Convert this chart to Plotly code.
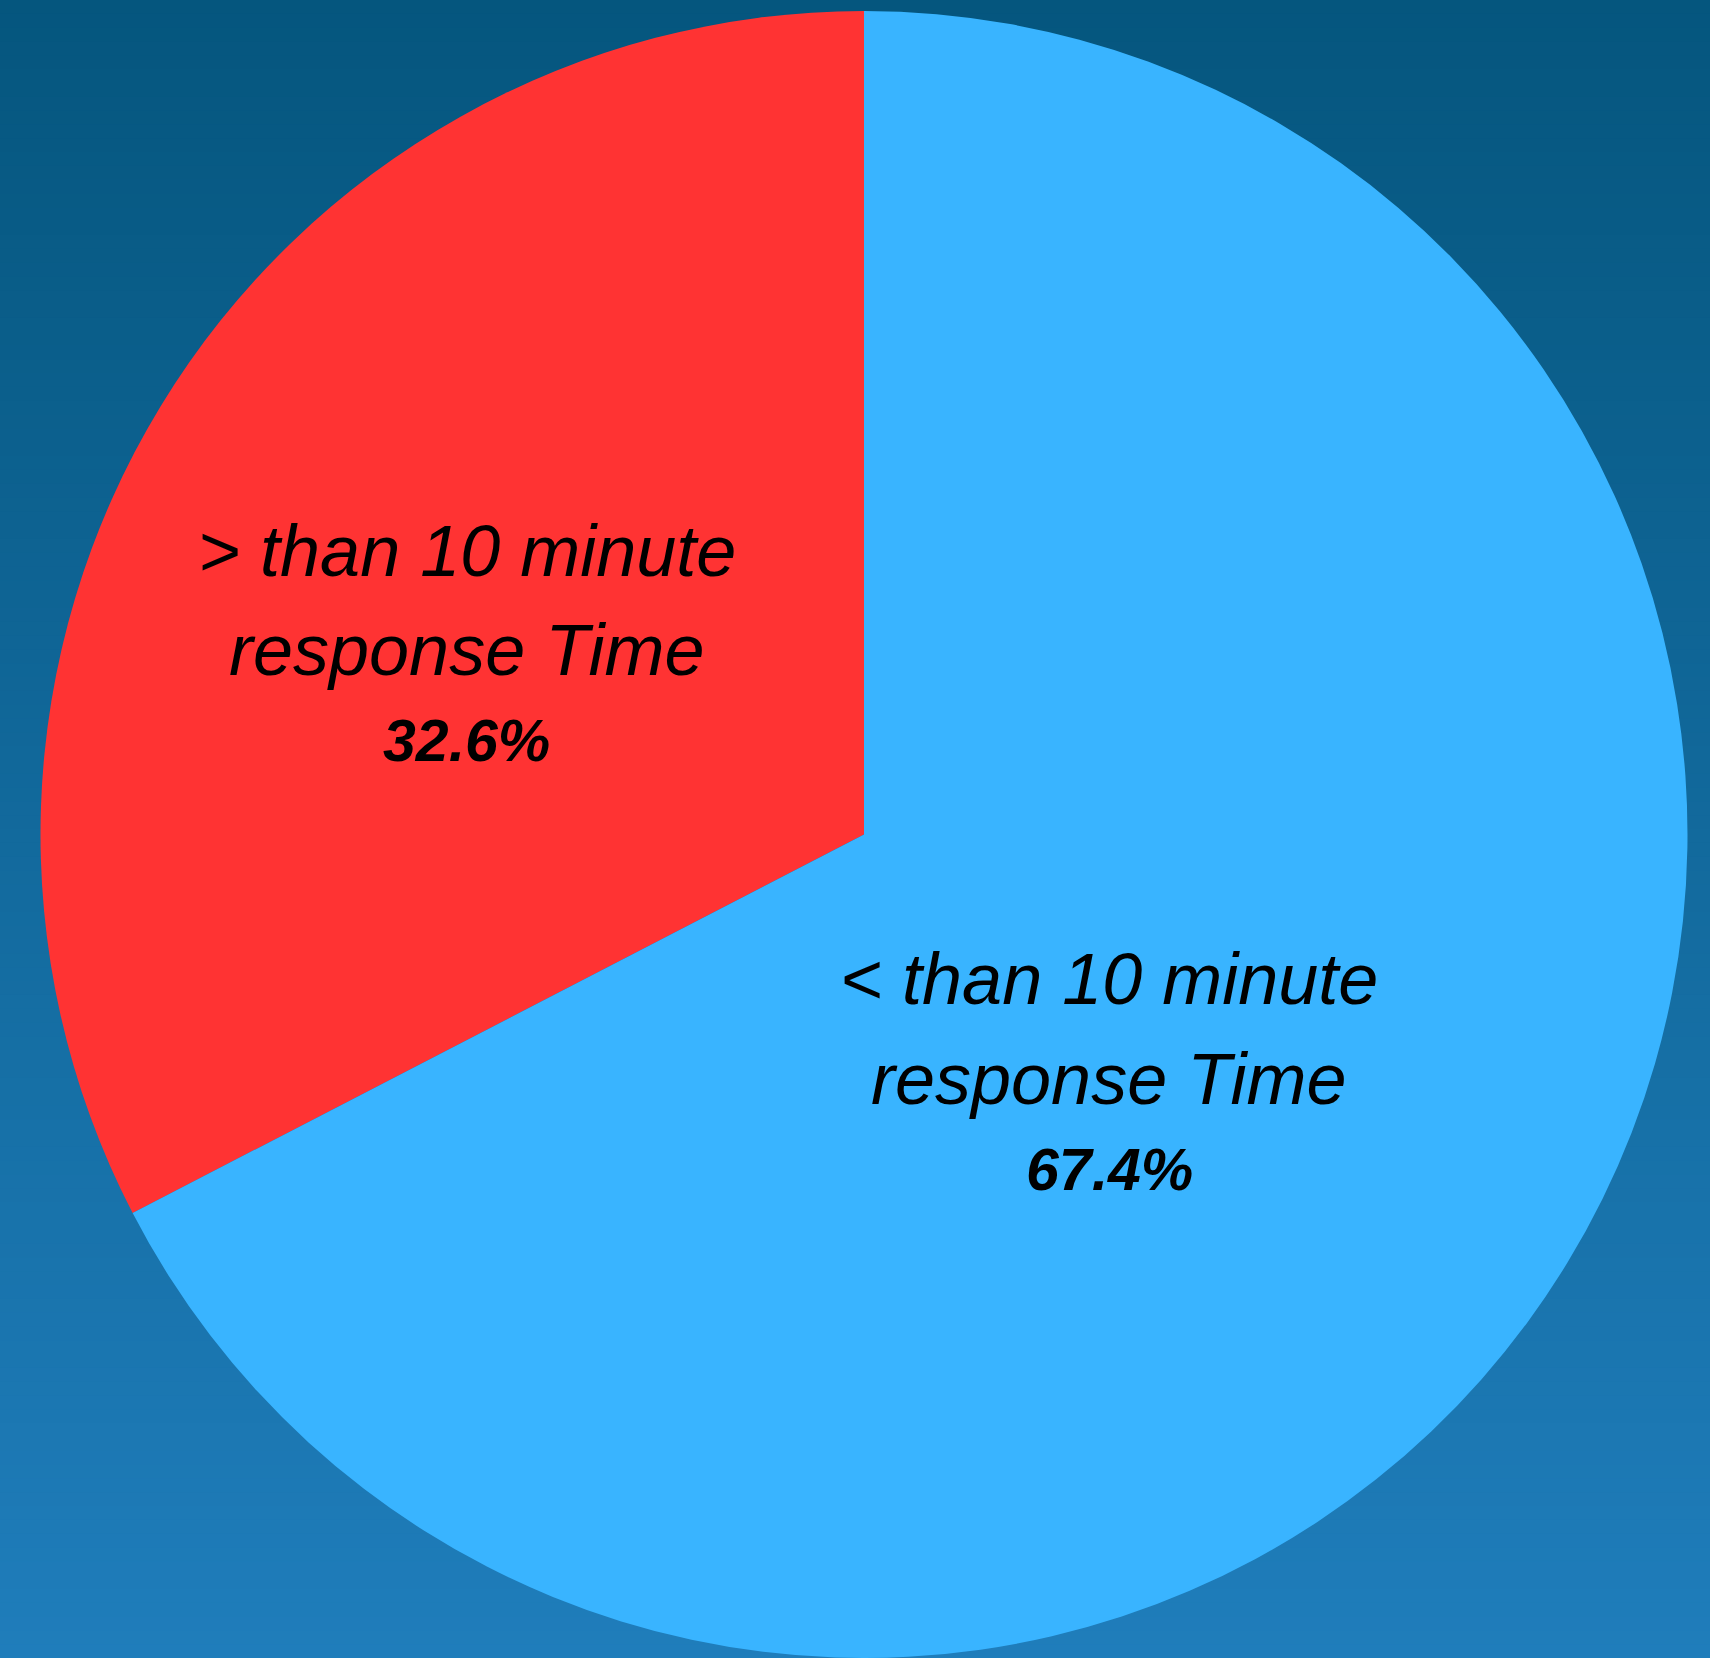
import plotly.graph_objects as go

# ---- data ----
label_line1 = ["> than 10 minute", "< than 10 minute"]
label_line2 = ["response Time", "response Time"]
labels = [a + " " + b for a, b in zip(label_line1, label_line2)]
values = [32.6, 67.4]
colors = ["#ff3333", "#39b4ff"]

# ---- layout constants ----
W, H = 1710, 1658
TOP = 11                       # pie top edge (px)
CX = 864                       # pie centre x (px)
R = (H - TOP) / 2
# label block centres (px): (x, line1 centre y, line2 centre y, pct centre y)
LABEL_POS = [(467, 551, 650, 741), (1109, 979, 1079, 1170)]

total = sum(values)
# first slice runs counter-clockwise from 12 o'clock
start_rotation = -360.0 * values[0] / total

fig = go.Figure()
fig.add_trace(go.Pie(
    labels=labels,
    values=values,
    sort=False,
    direction="clockwise",
    rotation=start_rotation,
    marker=dict(colors=colors, line=dict(width=0)),
    textinfo="none",
    hoverinfo="label+percent",
    showlegend=False,
    domain=dict(x=[(CX - R) / W, (CX + R) / W], y=[0, 1 - TOP / H]),
))

# background vertical gradient
top_rgb = (5, 86, 126)
bot_rgb = (31, 125, 187)
n = 120
shapes = []
for i in range(n):
    t = i / (n - 1)
    c = tuple(round(top_rgb[k] + (bot_rgb[k] - top_rgb[k]) * t) for k in range(3))
    shapes.append(dict(
        type="rect", xref="paper", yref="paper", layer="below",
        x0=0, x1=1, y0=1 - (i + 1) / n - 0.001, y1=1 - i / n,
        fillcolor="rgb(%d,%d,%d)" % c, line=dict(width=0),
    ))

annotations = []
for i, (x, y1, y2, y3) in enumerate(LABEL_POS):
    pct = "%.1f%%" % (values[i] / total * 100)
    for txt, yy, size, weight in [
        (label_line1[i], y1, 72, "normal"),
        (label_line2[i], y2, 72, "normal"),
        (pct, y3, 59, "bold"),
    ]:
        annotations.append(dict(
            text=txt, x=x / W, y=1 - yy / H, xref="paper", yref="paper",
            xanchor="center", yanchor="middle", showarrow=False,
            font=dict(family="Liberation Sans, Arial, sans-serif", size=size,
                      color="black", style="italic", weight=weight),
        ))

fig.update_layout(
    width=W, height=H,
    margin=dict(l=0, r=0, t=0, b=0),
    paper_bgcolor="rgb(18,105,155)",
    plot_bgcolor="rgba(0,0,0,0)",
    shapes=shapes,
    annotations=annotations,
)

fig.write_html(
    "out.html",
    config={"displayModeBar": False},
    post_script="document.body.style.margin='0';document.body.style.overflow='hidden';",
)
